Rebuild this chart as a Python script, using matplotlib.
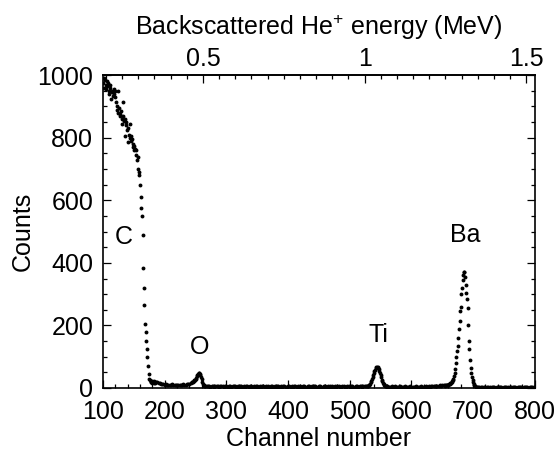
import numpy as np
import matplotlib
matplotlib.use("Agg")
import matplotlib.pyplot as plt
from matplotlib.ticker import MultipleLocator, FixedLocator

plt.rcParams['font.family'] = ['Liberation Sans', 'DejaVu Sans']
plt.rcParams['mathtext.fontset'] = 'custom'
plt.rcParams['mathtext.rm'] = 'Liberation Sans'
plt.rcParams['mathtext.it'] = 'Liberation Sans:italic'
plt.rcParams['mathtext.bf'] = 'Liberation Sans:bold'

# ---- data (channel segments and counts) ----
ch_c = np.arange(100, 186, 1)
cnt_c = [975, 990, 960, 985, 970, 955, 980, 965, 975, 950,
         940, 970, 960, 925, 950, 945, 935, 955, 940, 948,
         930, 915, 900, 890, 950, 880, 895, 875, 870, 885,
         860, 845, 915, 870, 855, 805, 860, 840, 850, 825,
         830, 785, 810, 845, 800, 790, 805, 795, 770, 780,
         760, 775, 765, 745, 760, 730, 740, 700, 680, 690,
         650, 610, 575, 550, 490, 385, 320, 265, 205, 178,
         150, 125, 100, 70, 45, 30, 24, 20, 18, 22,
         17, 19, 16, 21, 18, 17]

ch_b = np.arange(186, 245, 2)
cnt_b = [20, 18, 16, 15, 14, 12, 13, 11, 12, 10, 11, 9, 10, 12, 9,
         11, 10, 8, 10, 11, 9, 10, 12, 10, 11, 13, 12, 14, 16, 18]

ch_o = np.arange(245, 267, 1)
cnt_o = [18, 20, 22, 25, 27, 30, 33, 37, 41, 45, 47, 48, 46, 42, 36,
         28, 20, 13, 9, 7, 6, 5]

ch_d = np.arange(268, 529, 2)
cnt_d = [6, 5, 7, 4, 6, 5, 3, 6, 7, 5, 4, 6, 5, 7, 4, 5, 6, 3, 5, 6,
         4, 7, 5, 5, 3, 6, 4, 5, 7, 4, 6, 3, 5, 6, 4, 5, 7, 3, 5, 4,
         6, 5, 3, 6, 4, 7, 5, 4, 6, 3, 5, 4, 6, 7, 3, 5, 4, 6, 5, 3,
         6, 4, 5, 7, 4, 3, 6, 5, 4, 6, 3, 5, 7, 4, 5, 3, 6, 4, 5, 6,
         3, 4, 6, 5, 3, 7, 4, 5, 6, 3, 4, 5, 6, 4, 3, 5, 6, 4, 7, 3,
         5, 4, 6, 3, 5, 4, 6, 5, 3, 4, 6, 5, 4, 3, 6, 5, 4, 6, 5, 4,
         3, 5, 6, 4, 5, 6, 4, 5, 6, 5, 6]

ch_ti = np.arange(529, 563, 1)
cnt_ti = [6, 7, 9, 11, 14, 18, 23, 29, 35, 41, 48, 54, 59, 63, 66, 68,
          67, 64, 60, 55, 48, 41, 34, 27, 21, 16, 12, 9, 7, 6, 5, 5, 4, 4]

ch_e = np.arange(564, 655, 2)
cnt_e = [4, 3, 5, 4, 3, 5, 4, 2, 4, 5, 3, 4, 3, 5, 4, 3, 4, 5, 3, 4,
         2, 4, 5, 3, 4, 3, 5, 4, 4, 3, 5, 4, 5, 4, 6, 5, 5, 6, 7, 6,
         7, 8, 7, 8, 9, 8]

ch_ba = np.arange(655, 707, 1)
cnt_ba = [7, 8, 8, 9, 10, 11, 12, 13, 15, 17, 19, 22, 26, 30, 38, 48,
          62, 80, 100, 117, 135, 160, 190, 215, 245, 258, 300, 320, 345,
          360, 372, 370, 355, 330, 305, 283, 255, 200, 150, 125, 88, 65,
          48, 35, 26, 18, 12, 8, 6, 4, 3, 3]

ch_f = np.arange(708, 801, 2)
cnt_f = [3, 2, 3, 2, 1, 3, 2, 2, 3, 1, 2, 3, 2, 2, 1, 3, 2, 2, 3, 2,
         1, 2, 3, 2, 2, 1, 3, 2, 2, 3, 2, 1, 2, 2, 3, 2, 1, 2, 3, 2,
         2, 1, 2, 3, 2, 2, 2]

labels = ["C", "O", "Ti", "Ba"]
label_ch = [134, 256, 546, 688]
label_cnt = [482, 131, 169, 489]

energy_ticks = [0.5, 1.0, 1.5]
energy_ticklabels = ["0.5", "1", "1.5"]
MEV_PER_CH = 1.0 / 524.0

channels = np.concatenate([ch_c, ch_b, ch_o, ch_d, ch_ti, ch_e, ch_ba, ch_f])
counts = np.concatenate([cnt_c, cnt_b, cnt_o, cnt_d, cnt_ti, cnt_e, cnt_ba, cnt_f])

# ---- figure ----
fig = plt.figure(figsize=(5.6, 4.53), dpi=100)
ax = fig.add_axes([0.184, 0.1435, 0.771, 0.6905])

ax.plot(channels, counts, 'o', color='black', ms=2.8, mec='none')

ax.set_xlim(100, 800)
ax.set_ylim(0, 1000)
ax.xaxis.set_major_locator(MultipleLocator(100))
ax.xaxis.set_minor_locator(MultipleLocator(20))
ax.yaxis.set_major_locator(MultipleLocator(200))
ax.yaxis.set_minor_locator(MultipleLocator(50))

fs = 18
ax.tick_params(which='both', direction='in', right=True, top=False,
               labelsize=fs, width=0.9)
ax.tick_params(axis='x', which='major', length=6, pad=9)
ax.tick_params(axis='y', which='major', length=6, pad=7)
ax.tick_params(which='minor', length=3)
for s in ax.spines.values():
    s.set_linewidth(1.2)

ax.set_xlabel("Channel number", fontsize=fs, labelpad=2)
ax.set_ylabel("Counts", fontsize=fs, labelpad=2)

sec = ax.secondary_xaxis('top', functions=(lambda c: c * MEV_PER_CH,
                                           lambda e: e / MEV_PER_CH))
sec.xaxis.set_major_locator(FixedLocator(energy_ticks))
sec.set_xticklabels(energy_ticklabels)
sec.xaxis.set_minor_locator(MultipleLocator(0.05))
sec.tick_params(which='both', direction='in', labelsize=fs, width=0.9)
sec.tick_params(which='major', length=6, pad=3)
sec.tick_params(which='minor', length=3)
sec.spines['top'].set_linewidth(1.2)
sec.set_xlabel(r"Backscattered He$^{+}$ energy (MeV)", fontsize=fs, labelpad=9)

for t, x, y in zip(labels, label_ch, label_cnt):
    ax.text(x, y, t, fontsize=fs, ha='center', va='center')

fig.savefig("out.png", dpi=100)
